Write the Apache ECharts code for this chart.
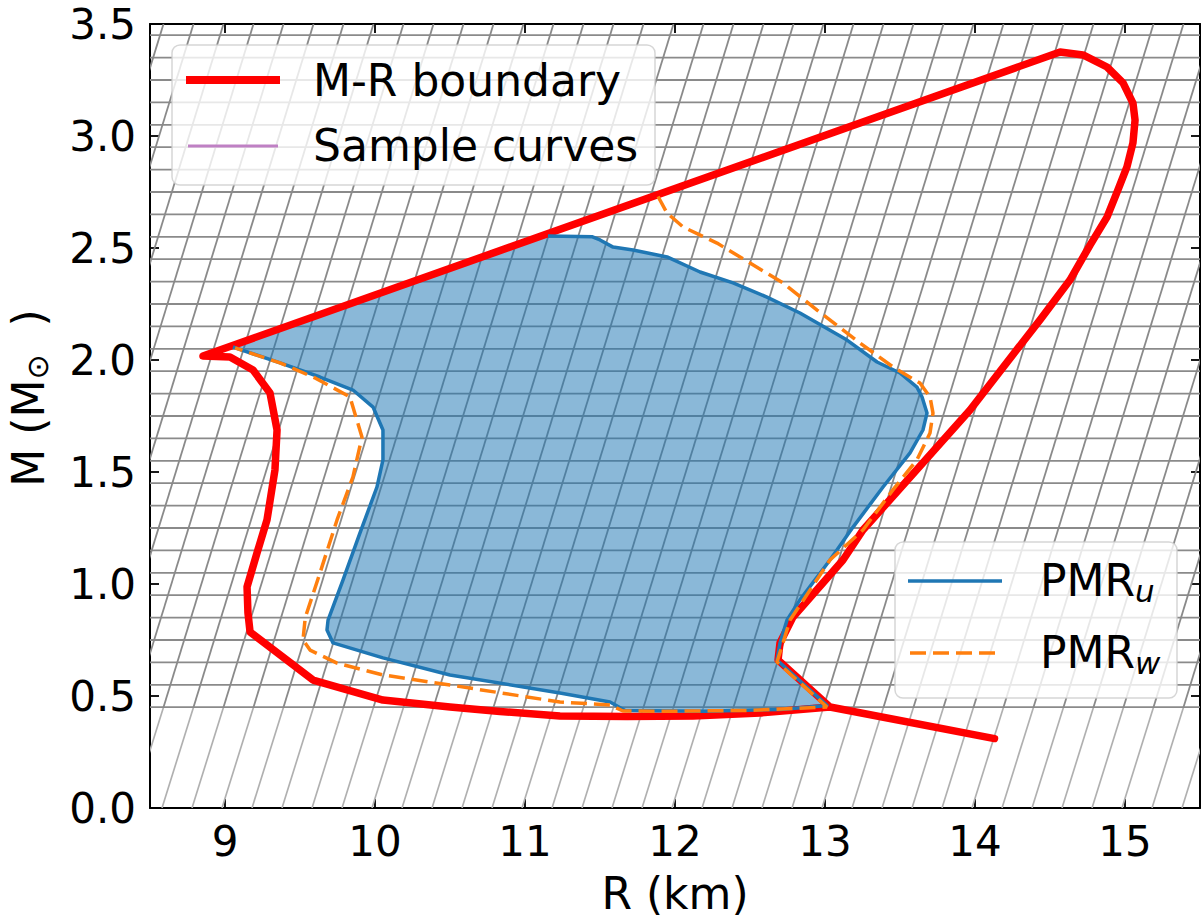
<!DOCTYPE html>
<html><head><meta charset="utf-8">
<script src="https://cdn.jsdelivr.net/npm/echarts@6/dist/echarts.min.js"></script>
<style>html,body{margin:0;padding:0;background:#fff}#c{width:1204px;height:917px}</style>
</head><body><div id="c"></div>
<script>
// ---------- data ----------
const xTickValues = [9, 10, 11, 12, 13, 14, 15];
const yTickValues = [0, 0.5, 1.0, 1.5, 2.0, 2.5, 3.0, 3.5];

// background sample-curve mesh (masses of the flat parts, radii where the curves cross M = 0)
const sampleMassLevels = [0.45,0.55,0.65,0.75,0.85,0.95,1.05,1.15,1.25,1.35,1.45,1.55,1.65,1.75,1.85,1.95,2.05,2.15,2.25,2.35,2.45,2.55,2.65,2.75,2.85,2.95,3.05,3.15,3.25,3.35,3.45];
const sampleCurveBases = [6.78,6.98,7.18,7.38,7.58,7.78,7.98,8.18,8.38,8.58,8.78,8.98,9.18,9.38,9.58,9.78,9.98,10.18,10.38,10.58,10.78,10.98,11.18,11.38,11.58,11.78,11.98,12.18,12.38,12.58,12.78,12.98,13.18,13.38,13.58,13.78,13.98,14.18,14.38,14.58,14.78,14.98,15.18,15.38];

// M-R boundary (R km, M Msun)
const mrBoundary = [
 [14.13,0.31],[13.033,0.451],[12.567,0.424],[12.12,0.411],[11.68,0.408],[11.233,0.411],[10.833,0.431],[10.5,0.451],[10.053,0.482],[9.587,0.571],[9.167,0.786],[9.153,0.871],[9.147,0.987],[9.213,1.138],[9.28,1.286],[9.333,1.509],[9.347,1.6875],[9.3,1.853],[9.187,1.955],[9.033,2.013],[8.853,2.018],
 [14.567,3.375],[14.72,3.362],[14.88,3.308],[14.987,3.237],[15.053,3.147],[15.067,3.071],[15.053,2.969],[15.013,2.862],[14.953,2.759],[14.88,2.638],[14.767,2.513],[14.633,2.357],[14.433,2.179],[13.967,1.777],[13.253,1.241],[13.12,1.107],[12.787,0.853],[12.7,0.737],[12.687,0.661],[13.033,0.451]
];

// PMR_u boundary
const pmrU = [
 [11.153,2.554],[11.45,2.55],[11.5,2.536],[11.587,2.504],[11.72,2.491],[11.947,2.46],[12.167,2.393],[12.387,2.344],[12.613,2.281],[12.833,2.21],[13.147,2.089],[13.347,1.991],[13.5,1.942],[13.613,1.879],[13.647,1.835],[13.68,1.763],[13.653,1.6875],[13.567,1.585],[13.387,1.433],[13.187,1.254],[13.033,1.107],[12.833,0.929],[12.747,0.839],[12.7,0.737],[12.68,0.661],[13.013,0.458],
 [12.7,0.44],[12.2,0.432],[11.667,0.435],[11.567,0.473],[11.233,0.513],[10.5,0.594],[10.053,0.67],[9.72,0.737],[9.68,0.795],[9.687,0.839],[9.787,1.018],[9.9,1.228],[10.013,1.433],[10.053,1.554],[10.053,1.6875],[9.987,1.79],[9.853,1.866],[9.633,1.924],[9.367,1.987],[9.053,2.058]
];

// PMR_w boundary
const pmrW = [
 [11.887,2.73],[11.947,2.656],[12.053,2.594],[12.28,2.522],[12.5,2.433],[12.72,2.344],[12.947,2.223],[13.233,2.076],[13.453,1.969],[13.633,1.897],[13.7,1.835],[13.72,1.763],[13.7,1.674],[13.613,1.554],[13.453,1.42],[13.253,1.241],[13.033,1.107],[12.767,0.839],[12.72,0.737],[12.68,0.652],[13.013,0.451],
 [12.5,0.436],[12.0,0.432],[11.653,0.433],[11.567,0.46],[11.233,0.473],[10.5,0.549],[10.053,0.594],[9.747,0.647],[9.567,0.705],[9.52,0.75],[9.535,0.85],[9.633,1.049],[9.747,1.286],[9.853,1.478],[9.913,1.656],[9.833,1.835],[9.6,1.92],[9.367,1.987],[9.067,2.054]
];

// ---------- chart ----------
const X_MIN = 8.5, X_MAX = 15.5, Y_MIN = 0, Y_MAX = 3.5;
const FONT = "'DejaVu Sans', sans-serif";
const FS = 42;
// shape of the sample curves: radius shift at the kink mass and at the top of the plot
const KINK_M = 0.45, KINK_DR = 0.21, TOP_DR = 0.21 + 1.4;

const chart = echarts.init(document.getElementById('c'), null, {renderer: 'svg'});

function hLine(params, api) {
  const m = api.value(0);
  const a = api.coord([X_MIN, m]), b = api.coord([X_MAX, m]);
  return {type: 'line', shape: {x1: a[0], y1: a[1], x2: b[0], y2: b[1]},
          style: {stroke: '#8a8a8a', lineWidth: 1.8}};
}
function diagLine(params, api) {
  const r = api.value(0);
  const p0 = api.coord([r, Y_MIN]), p1 = api.coord([r + KINK_DR, KINK_M]), p2 = api.coord([r + TOP_DR, Y_MAX]);
  return {type: 'group', children: [
    {type: 'line', shape: {x1: p0[0], y1: p0[1], x2: p1[0], y2: p1[1]}, style: {stroke: '#b0b0b0', lineWidth: 1.7}},
    {type: 'line', shape: {x1: p1[0], y1: p1[1], x2: p2[0], y2: p2[1]}, style: {stroke: '#8a8a8a', lineWidth: 1.8}}
  ]};
}
function fillPoly(params, api) {
  return {type: 'polygon', shape: {points: pmrU.map(p => api.coord(p))},
          style: {fill: 'rgba(31,119,180,0.52)'}};
}

const axisLineStyle = {show: true, onZero: false, lineStyle: {color: '#000', width: 2}};
const tickStyle = {show: true, inside: true, length: 9, lineStyle: {color: '#000', width: 1.8}};
const labelStyle = {fontFamily: FONT, fontSize: FS, color: '#000'};

chart.setOption({
  animation: false,
  backgroundColor: '#fff',
  grid: {left: 150, right: 4, top: 24, bottom: 109, containLabel: false, outerBoundsMode: 'none'},
  xAxis: [
    {type: 'value', position: 'bottom', min: X_MIN, max: X_MAX,
     axisLine: axisLineStyle, splitLine: {show: false},
     axisTick: Object.assign({customValues: xTickValues}, tickStyle),
     axisLabel: Object.assign({customValues: xTickValues, margin: 12}, labelStyle),
     name: 'R (km)', nameLocation: 'middle', nameGap: 63,
     nameTextStyle: {fontFamily: FONT, fontSize: 44, color: '#000'}},
    {type: 'value', position: 'top', min: X_MIN, max: X_MAX,
     axisLine: axisLineStyle, splitLine: {show: false},
     axisTick: Object.assign({customValues: xTickValues}, tickStyle),
     axisLabel: {show: false}}
  ],
  yAxis: [
    {type: 'value', position: 'left', min: Y_MIN, max: Y_MAX, interval: 0.5,
     axisLine: axisLineStyle, splitLine: {show: false},
     axisTick: tickStyle,
     axisLabel: Object.assign({margin: 14, formatter: v => v.toFixed(1)}, labelStyle),
     name: '{p|M (M}{s|⊙}{n|  )}', nameLocation: 'middle', nameRotate: 90, nameGap: 98,
     nameTextStyle: {fontFamily: FONT, fontSize: 44, color: '#000',
       rich: {p: {fontFamily: FONT, fontSize: 44, color: '#000', padding: [0, 0, 0, 36]},
              n: {fontFamily: FONT, fontSize: 44, color: '#000'},
              s: {fontFamily: FONT, fontSize: 30, color: '#000', padding: [18, 0, 0, 0]}}}},
    {type: 'value', position: 'right', min: Y_MIN, max: Y_MAX, interval: 0.5,
     axisLine: axisLineStyle, splitLine: {show: false},
     axisTick: tickStyle, axisLabel: {show: false}}
  ],
  series: [
    {name: 'Sample curves', type: 'custom', renderItem: diagLine, clip: true, z: 1,
     data: sampleCurveBases.map(v => [v]), silent: true},
    {name: 'Sample curves h', type: 'custom', renderItem: hLine, clip: true, z: 1,
     data: sampleMassLevels.map(v => [v]), silent: true},
    {name: 'PMR_u fill', type: 'custom', renderItem: fillPoly, clip: true, z: 2,
     data: [[pmrU[0][0], pmrU[0][1]]], silent: true},
    {name: 'M-R boundary', type: 'line', data: mrBoundary, showSymbol: false, symbol: 'none', z: 3,
     lineStyle: {color: '#ff0000', width: 7.5, join: 'round', cap: 'round'}},
    {name: 'PMR_u', type: 'line', data: pmrU, showSymbol: false, symbol: 'none', z: 4,
     lineStyle: {color: '#1f77b4', width: 3.5, join: 'round'}},
    {name: 'PMR_w', type: 'line', data: pmrW, showSymbol: false, symbol: 'none', z: 5,
     lineStyle: {color: '#ff7f0e', width: 3.5, type: [16, 7]}}
  ],
  graphic: [
    // legend 1
    {type: 'rect', z: 100, shape: {x: 172, y: 45, width: 483, height: 140, r: 8},
     style: {fill: 'rgba(255,255,255,0.8)', stroke: 'rgba(204,204,204,0.8)', lineWidth: 1.5}},
    {type: 'line', z: 101, shape: {x1: 186, y1: 80, x2: 280, y2: 80}, style: {stroke: '#ff0000', lineWidth: 8}},
    {type: 'text', z: 101, style: {x: 313, y: 80, text: 'M-R boundary', fontFamily: FONT, fontSize: FS + 2, fill: '#000', verticalAlign: 'middle'}},
    {type: 'line', z: 101, shape: {x1: 188, y1: 146, x2: 278, y2: 146}, style: {stroke: '#bf80c4', lineWidth: 3}},
    {type: 'text', z: 101, style: {x: 313, y: 145, text: 'Sample curves', fontFamily: FONT, fontSize: FS + 2, fill: '#000', verticalAlign: 'middle'}},
    // legend 2
    {type: 'rect', z: 100, shape: {x: 895, y: 542, width: 282, height: 156, r: 8},
     style: {fill: 'rgba(255,255,255,0.8)', stroke: 'rgba(204,204,204,0.8)', lineWidth: 1.5}},
    {type: 'line', z: 101, shape: {x1: 908, y1: 581, x2: 1002, y2: 581}, style: {stroke: '#1f77b4', lineWidth: 3.5}},
    {type: 'text', z: 101, style: {x: 1040, y: 580, text: '{a|PMR}{s|u}', verticalAlign: 'middle',
      rich: {a: {fontFamily: FONT, fontSize: FS + 2, fill: '#000'}, s: {fontFamily: FONT, fontSize: 31, fontStyle: 'italic', fill: '#000', padding: [22, 0, 0, 0]}}}},
    {type: 'line', z: 101, shape: {x1: 910, y1: 653, x2: 1002, y2: 653}, style: {stroke: '#ff7f0e', lineWidth: 3.5, lineDash: [16, 7]}},
    {type: 'text', z: 101, style: {x: 1040, y: 652, text: '{a|PMR}{s|w}', verticalAlign: 'middle',
      rich: {a: {fontFamily: FONT, fontSize: FS + 2, fill: '#000'}, s: {fontFamily: FONT, fontSize: 31, fontStyle: 'italic', fill: '#000', padding: [22, 0, 0, 0]}}}}
  ]
});
</script></body></html>
